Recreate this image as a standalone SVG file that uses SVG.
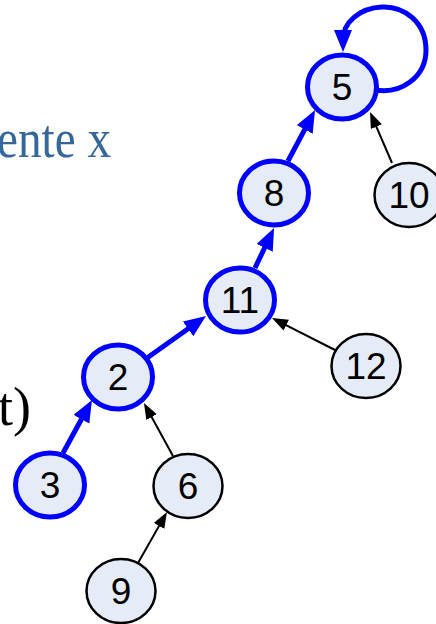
<svg xmlns="http://www.w3.org/2000/svg" width="436" height="624" viewBox="0 0 436 624">
<style>
  .node ellipse { fill: #E6ECF7; }
  .blue ellipse { stroke: #0000FF; stroke-width: 5; }
  .black ellipse { stroke: #000000; stroke-width: 2.5; }
  .node text { font-family: "Liberation Sans", Arial, sans-serif; font-size: 37px; fill: #000; text-anchor: middle; }
  .eb { stroke: #0000FF; stroke-width: 5; fill: none; }
  .ek { stroke: #000000; stroke-width: 2; fill: none; }
  .side { font-family: "Liberation Serif", "Times New Roman", serif; font-size: 54px; }
</style>
<defs>
  <marker id="ab" markerUnits="userSpaceOnUse" markerWidth="24" markerHeight="20" refX="10" refY="9" orient="auto">
    <path d="M0,0 L22,9 L0,18 z" fill="#0000FF"/>
  </marker>
  <marker id="ak" markerUnits="userSpaceOnUse" markerWidth="18" markerHeight="14" refX="8" refY="6" orient="auto">
    <path d="M0,0 L16,6 L0,12 z" fill="#000000"/>
  </marker>
</defs>
<text class="side" x="-3" y="157" fill="#34679C" textLength="114" lengthAdjust="spacingAndGlyphs">ente x</text>
<text class="side" x="-2" y="425" fill="#000000">t)</text>
<g id="connectors">
  <path class="eb" d="M63,453 L86.2,410.5" marker-end="url(#ab)"/>
  <path class="eb" d="M147,358 L196.2,323" marker-end="url(#ab)"/>
  <path class="eb" d="M255,268 L268.9,238.8" marker-end="url(#ab)"/>
  <path class="eb" d="M288,161 L309.4,120.6" marker-end="url(#ab)"/>
  <path class="eb" d="M376,90 C400,94 426,78 426,50 C426,22 404,6 382,7 C360,8 343,22 343,40" marker-end="url(#ab)"/>
  <path class="ek" d="M392,163 L373.2,119.4" marker-end="url(#ak)"/>
  <path class="ek" d="M335,350 L279.1,321.6" marker-end="url(#ak)"/>
  <path class="ek" d="M173,456 L147.8,410" marker-end="url(#ak)"/>
  <path class="ek" d="M138,563 L163,519" marker-end="url(#ak)"/>
</g>
<g id="n5" class="node blue"><ellipse cx="342" cy="87" rx="34.5" ry="32"/><text x="342" y="100">5</text></g>
<g id="n8" class="node blue"><ellipse cx="274" cy="193" rx="34.5" ry="32"/><text x="274" y="206">8</text></g>
<g id="n10" class="node black"><ellipse cx="409" cy="195" rx="34.5" ry="32"/><text x="409" y="208">10</text></g>
<g id="n11" class="node blue"><ellipse cx="240" cy="300" rx="34.5" ry="32"/><text x="240" y="313">11</text></g>
<g id="n12" class="node black"><ellipse cx="366" cy="366" rx="34.5" ry="32"/><text x="366" y="379">12</text></g>
<g id="n2" class="node blue"><ellipse cx="118" cy="377" rx="34.5" ry="32"/><text x="118" y="390">2</text></g>
<g id="n3" class="node blue"><ellipse cx="50" cy="485" rx="34.5" ry="32"/><text x="50" y="498">3</text></g>
<g id="n6" class="node black"><ellipse cx="188" cy="486" rx="34.5" ry="32"/><text x="188" y="499">6</text></g>
<g id="n9" class="node black"><ellipse cx="121" cy="591" rx="34.5" ry="32"/><text x="121" y="604">9</text></g>
</svg>
